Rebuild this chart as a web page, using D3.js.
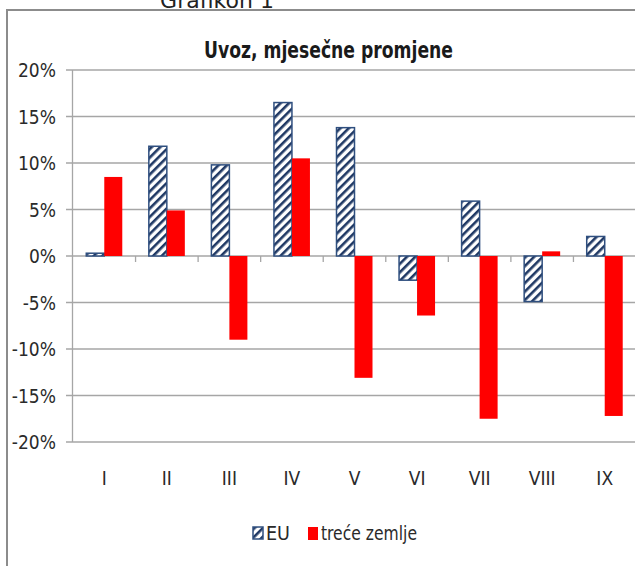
<!DOCTYPE html>
<html>
<head>
<meta charset="utf-8">
<script src="https://cdn.jsdelivr.net/npm/d3@7"></script>
<style>
  body { margin: 0; background: #fff; }
  text { font-family: "DejaVu Sans Condensed", "Liberation Sans Narrow", "Open Sans", sans-serif; }
</style>
</head>
<body>
<div class="chart"></div>
<script>
// Data
var months = ["I", "II", "III", "IV", "V", "VI", "VII", "VIII", "IX"];
var euValues = [0.3, 11.8, 9.8, 16.5, 13.8, -2.6, 5.9, -4.9, 2.1];
var thirdValues = [8.5, 4.9, -9.0, 10.5, -13.1, -6.4, -17.5, 0.5, -17.2];
var yTicks = [-20, -15, -10, -5, 0, 5, 10, 15, 20];
var seriesNames = ["EU", "treće zemlje"];

var svgWidth = 635;
var svgHeight = 566;

var svg = d3.select(".chart")
    .append("svg")
    .attr("width", svgWidth)
    .attr("height", svgHeight);

// hatch pattern for EU bars
var defs = svg.append("defs");
var pat = defs.append("pattern")
    .attr("id", "hatch")
    .attr("patternUnits", "userSpaceOnUse")
    .attr("width", 6)
    .attr("height", 6)
    .attr("patternTransform", "rotate(45)");
pat.append("rect").attr("width", 6).attr("height", 6).attr("fill", "#fff");
pat.append("rect").attr("width", 2.6).attr("height", 6).attr("fill", "#1f3864");

// outer frame
svg.append("rect")
    .attr("x", 7)
    .attr("y", 10)
    .attr("width", 640)
    .attr("height", 600)
    .attr("fill", "none")
    .attr("stroke", "#8c8c8c")
    .attr("stroke-width", 2);

// caption above the frame (top half lies off the page, as in the original)
svg.append("text")
    .attr("x", 217)
    .attr("y", 8)
    .attr("text-anchor", "middle")
    .style("font-family", "DejaVu Sans, sans-serif")
    .style("font-size", "22px")
    .attr("fill", "#222")
    .text("Grafikon 1");

// title
svg.append("text")
    .attr("x", 204)
    .attr("y", 58)
    .attr("textLength", 249)
    .attr("lengthAdjust", "spacingAndGlyphs")
    .style("font-size", "23px")
    .style("font-weight", "bold")
    .attr("fill", "#1a1a1a")
    .text("Uvoz, mjesečne promjene");

var x = d3.scaleBand()
    .domain(months)
    .range([73, 636]);

var y = d3.scaleLinear()
    .domain([-20, 20])
    .range([442, 70]);

var barW = 18;

// gridlines
svg.append("g")
    .selectAll("line")
    .data(yTicks)
    .enter()
    .append("line")
    .attr("x1", 66)
    .attr("x2", 636)
    .attr("y1", d => y(d))
    .attr("y2", d => y(d))
    .attr("stroke", "#a6a6a6")
    .attr("stroke-width", 1.3);

// y axis line
svg.append("line")
    .attr("x1", 72.5).attr("x2", 72.5)
    .attr("y1", y(20)).attr("y2", y(-20))
    .attr("stroke", "#a6a6a6")
    .attr("stroke-width", 1.3);

// y labels
svg.append("g")
    .selectAll("text")
    .data(yTicks)
    .enter()
    .append("text")
    .attr("x", 56)
    .attr("y", d => y(d) + 7)
    .attr("text-anchor", "end")
    .style("font-size", "19px")
    .attr("fill", "#2a2a2a")
    .text(d => d + "%");

// category tick marks on the zero line
svg.append("g")
    .selectAll("line")
    .data(months.slice(1))
    .enter()
    .append("line")
    .attr("x1", d => x(d))
    .attr("x2", d => x(d))
    .attr("y1", y(0))
    .attr("y2", y(0) + 6)
    .attr("stroke", "#a6a6a6")
    .attr("stroke-width", 1.3);

// x labels
svg.append("g")
    .selectAll("text")
    .data(months)
    .enter()
    .append("text")
    .attr("x", d => x(d) + x.bandwidth() / 2)
    .attr("y", 485)
    .attr("text-anchor", "middle")
    .style("font-size", "19px")
    .attr("fill", "#2a2a2a")
    .text(d => d);

// EU bars
svg.append("g")
    .selectAll("rect")
    .data(months)
    .enter()
    .append("rect")
    .attr("x", d => x(d) + x.bandwidth() / 2 - barW)
    .attr("y", (d, i) => y(Math.max(0, euValues[i])))
    .attr("width", barW)
    .attr("height", (d, i) => Math.abs(y(euValues[i]) - y(0)))
    .attr("fill", "url(#hatch)")
    .attr("stroke", "#2f4f7f")
    .attr("stroke-width", 1.5);

// third countries bars
svg.append("g")
    .selectAll("rect")
    .data(months)
    .enter()
    .append("rect")
    .attr("x", d => x(d) + x.bandwidth() / 2)
    .attr("y", (d, i) => y(Math.max(0, thirdValues[i])))
    .attr("width", barW)
    .attr("height", (d, i) => Math.abs(y(thirdValues[i]) - y(0)))
    .attr("fill", "#ff0000");

// legend
var legend = svg.append("g");
legend.append("rect")
    .attr("x", 253).attr("y", 527)
    .attr("width", 10).attr("height", 12)
    .attr("fill", "url(#hatch)")
    .attr("stroke", "#2f4f7f")
    .attr("stroke-width", 1.5);
legend.append("text")
    .attr("x", 266).attr("y", 540)
    .attr("textLength", 24)
    .attr("lengthAdjust", "spacingAndGlyphs")
    .style("font-size", "19px")
    .attr("fill", "#2a2a2a")
    .text(seriesNames[0]);
legend.append("rect")
    .attr("x", 308).attr("y", 527)
    .attr("width", 10).attr("height", 13)
    .attr("fill", "#ff0000");
legend.append("text")
    .attr("x", 321).attr("y", 540)
    .attr("textLength", 96)
    .attr("lengthAdjust", "spacingAndGlyphs")
    .style("font-size", "19px")
    .attr("fill", "#2a2a2a")
    .text(seriesNames[1]);
</script>
</body>
</html>
